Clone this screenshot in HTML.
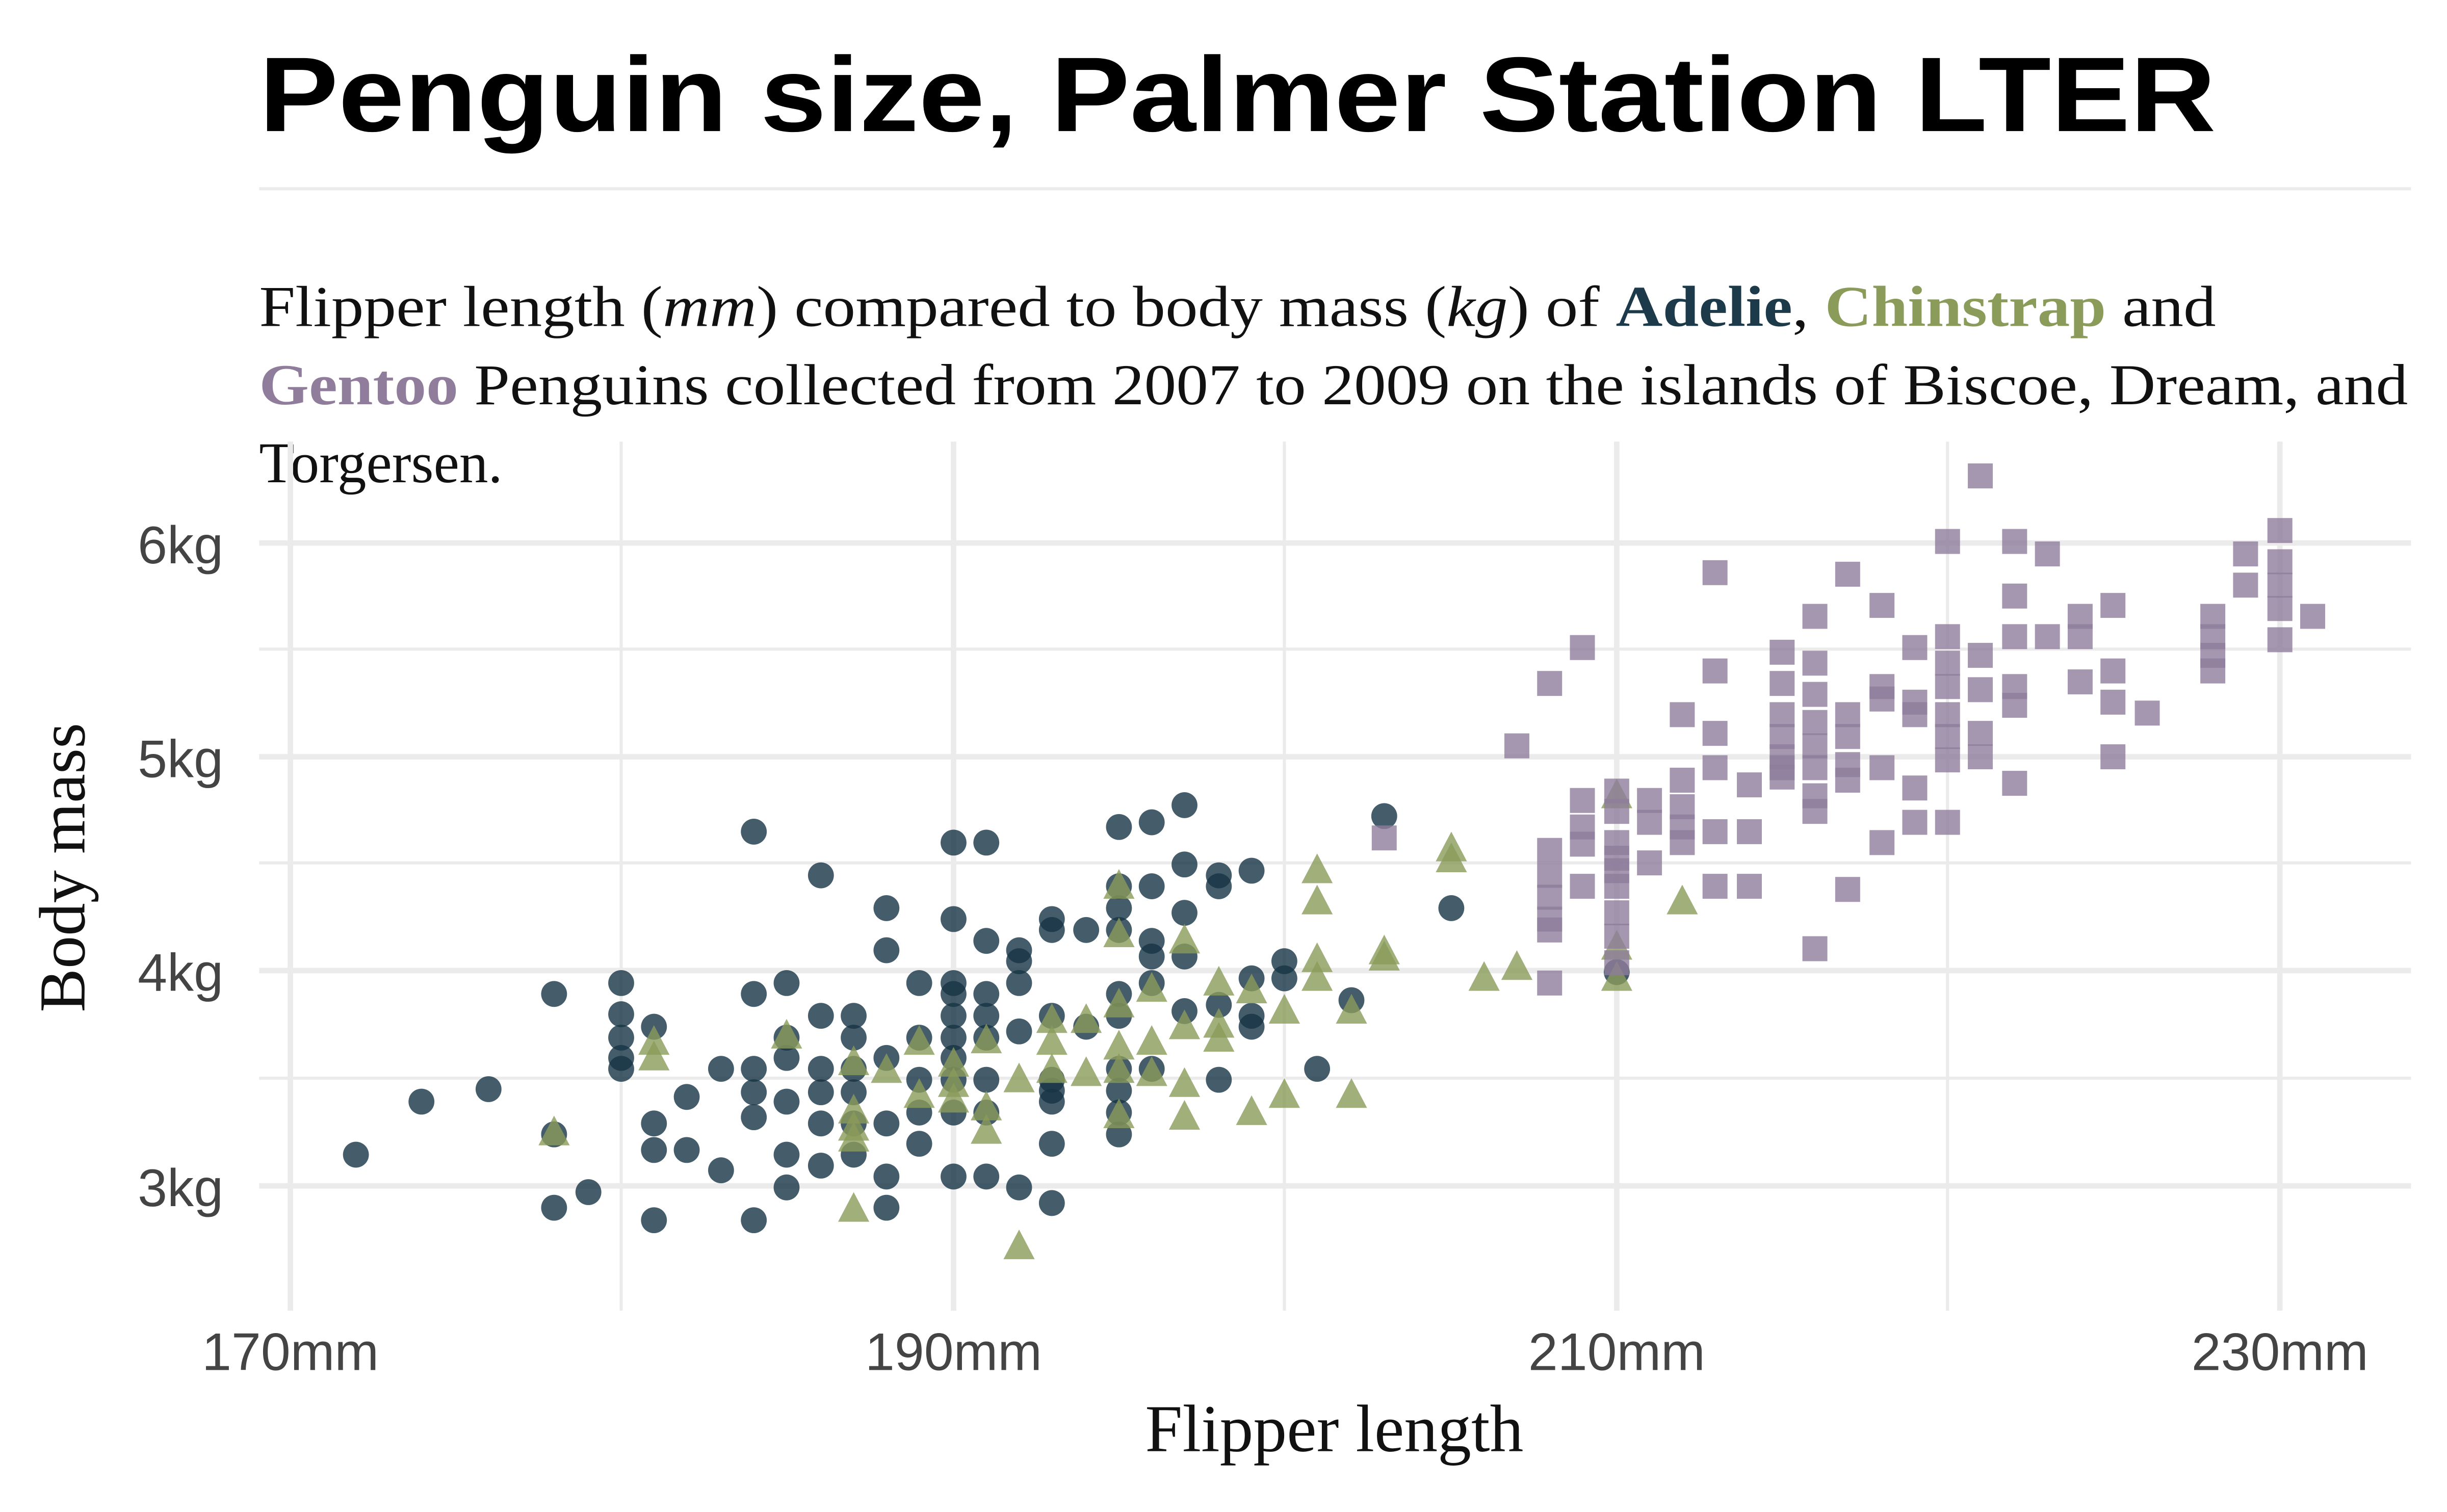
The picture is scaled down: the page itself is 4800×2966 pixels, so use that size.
<!DOCTYPE html>
<html><head><meta charset="utf-8"><style>
html,body{margin:0;padding:0;background:#fff;width:4800px;height:2966px;overflow:hidden}
svg{display:block}
</style></head><body>
<svg width="4800" height="2966" viewBox="0 0 1568 969" xmlns="http://www.w3.org/2000/svg" xmlns:xlink="http://www.w3.org/1999/xlink">
<defs>
<circle id="c" cx="0" cy="0" r="8.3" fill="#173545" fill-opacity="0.8"/>
<polygon id="t" points="-10,8 10,8 0,-11" fill="#8a9b5a" fill-opacity="0.8"/>
<rect id="s" x="-8" y="-8" width="16" height="16" fill="#8f7d9b" fill-opacity="0.8"/>
</defs>
<rect width="1568" height="969" fill="#fff"/>
<text x="166" y="84" font-family="Liberation Sans, sans-serif" font-weight="bold" font-size="68" fill="#000" textLength="1254" lengthAdjust="spacingAndGlyphs">Penguin size, Palmer Station LTER</text>
<line x1="166" y1="121" x2="1545" y2="121" stroke="#ebebeb" stroke-width="2"/>
<g font-family="Liberation Serif, serif" font-size="37" fill="#111">
<text x="166" y="209" textLength="1254" lengthAdjust="spacingAndGlyphs">Flipper length (<tspan font-style="italic">mm</tspan>) compared to body mass (<tspan font-style="italic">kg</tspan>) of <tspan font-weight="bold" fill="#1c3a4a">Adelie</tspan>, <tspan font-weight="bold" fill="#8a9b5a">Chinstrap</tspan> and</text>
<text x="166" y="259" textLength="1377" lengthAdjust="spacingAndGlyphs"><tspan font-weight="bold" fill="#8f7d9b">Gentoo</tspan> Penguins collected from 2007 to 2009 on the islands of Biscoe, Dream, and</text>
<text x="166" y="309">Torgersen.</text>
</g>
<g stroke="#ebebeb">
<g stroke-width="2"><line x1="166" y1="416" x2="1545" y2="416"/><line x1="166" y1="553" x2="1545" y2="553"/><line x1="166" y1="691" x2="1545" y2="691"/>
<line x1="398" y1="283" x2="398" y2="840"/><line x1="823" y1="283" x2="823" y2="840"/><line x1="1248" y1="283" x2="1248" y2="840"/></g>
<g stroke-width="3.5"><line x1="166" y1="348" x2="1545" y2="348"/><line x1="166" y1="485" x2="1545" y2="485"/><line x1="166" y1="622" x2="1545" y2="622"/><line x1="166" y1="760" x2="1545" y2="760"/>
<line x1="186" y1="283" x2="186" y2="840"/><line x1="611" y1="283" x2="611" y2="840"/><line x1="1036" y1="283" x2="1036" y2="840"/><line x1="1461" y1="283" x2="1461" y2="840"/></g>
</g>
<g font-family="Liberation Sans, sans-serif" font-size="34" fill="#444" text-anchor="end">
<text x="143" y="361">6kg</text><text x="143" y="498">5kg</text><text x="143" y="635">4kg</text><text x="143" y="773">3kg</text>
</g>
<g font-family="Liberation Sans, sans-serif" font-size="34" fill="#444" text-anchor="middle">
<text x="186" y="878">170mm</text><text x="611" y="878">190mm</text><text x="1036" y="878">210mm</text><text x="1461" y="878">230mm</text>
</g>
<text x="855" y="930" text-anchor="middle" font-family="Liberation Serif, serif" font-size="43" fill="#111">Flipper length</text>
<text transform="translate(54,556) rotate(-90)" text-anchor="middle" font-family="Liberation Serif, serif" font-size="42" fill="#111">Body mass</text>
<g>
<use xlink:href="#c" href="#c" x="228" y="740"/><use href="#c" x="270" y="706"/><use href="#c" x="313" y="698"/><use href="#c" x="355" y="637"/><use href="#c" x="355" y="727"/><use href="#c" x="355" y="774"/><use href="#c" x="377" y="764"/><use href="#c" x="398" y="630"/><use href="#c" x="398" y="650"/><use href="#c" x="398" y="665"/><use href="#c" x="398" y="678"/><use href="#c" x="398" y="685"/><use href="#c" x="419" y="658"/><use href="#c" x="419" y="720"/><use href="#c" x="419" y="737"/><use href="#c" x="419" y="782"/><use href="#c" x="440" y="737"/><use href="#c" x="440" y="703"/><use href="#c" x="462" y="685"/><use href="#c" x="462" y="750"/><use href="#c" x="483" y="533"/><use href="#c" x="483" y="637"/><use href="#c" x="483" y="685"/><use href="#c" x="483" y="700"/><use href="#c" x="483" y="716"/><use href="#c" x="483" y="782"/><use href="#c" x="504" y="630"/><use href="#c" x="504" y="665"/><use href="#c" x="504" y="678"/><use href="#c" x="504" y="706"/><use href="#c" x="504" y="740"/><use href="#c" x="504" y="761"/><use href="#c" x="526" y="561"/><use href="#c" x="526" y="651"/><use href="#c" x="526" y="685"/><use href="#c" x="526" y="700"/><use href="#c" x="526" y="720"/><use href="#c" x="526" y="747"/><use href="#c" x="547" y="651"/><use href="#c" x="547" y="665"/><use href="#c" x="547" y="685"/><use href="#c" x="547" y="700"/><use href="#c" x="547" y="720"/><use href="#c" x="547" y="740"/><use href="#c" x="568" y="582"/><use href="#c" x="568" y="609"/><use href="#c" x="568" y="678"/><use href="#c" x="568" y="720"/><use href="#c" x="568" y="754"/><use href="#c" x="568" y="774"/><use href="#c" x="589" y="630"/><use href="#c" x="589" y="665"/><use href="#c" x="589" y="692"/><use href="#c" x="589" y="713"/><use href="#c" x="589" y="733"/><use href="#c" x="611" y="540"/><use href="#c" x="611" y="589"/><use href="#c" x="611" y="630"/><use href="#c" x="611" y="637"/><use href="#c" x="611" y="651"/><use href="#c" x="611" y="665"/><use href="#c" x="611" y="678"/><use href="#c" x="611" y="692"/><use href="#c" x="611" y="713"/><use href="#c" x="611" y="754"/><use href="#c" x="632" y="540"/><use href="#c" x="632" y="603"/><use href="#c" x="632" y="637"/><use href="#c" x="632" y="651"/><use href="#c" x="632" y="665"/><use href="#c" x="632" y="692"/><use href="#c" x="632" y="713"/><use href="#c" x="632" y="754"/><use href="#c" x="653" y="609"/><use href="#c" x="653" y="616"/><use href="#c" x="653" y="630"/><use href="#c" x="653" y="661"/><use href="#c" x="653" y="761"/><use href="#c" x="674" y="589"/><use href="#c" x="674" y="596"/><use href="#c" x="674" y="651"/><use href="#c" x="674" y="692"/><use href="#c" x="674" y="699"/><use href="#c" x="674" y="706"/><use href="#c" x="674" y="733"/><use href="#c" x="674" y="771"/><use href="#c" x="696" y="596"/><use href="#c" x="696" y="658"/><use href="#c" x="717" y="530"/><use href="#c" x="717" y="568"/><use href="#c" x="717" y="582"/><use href="#c" x="717" y="596"/><use href="#c" x="717" y="637"/><use href="#c" x="717" y="651"/><use href="#c" x="717" y="685"/><use href="#c" x="717" y="699"/><use href="#c" x="717" y="713"/><use href="#c" x="717" y="727"/><use href="#c" x="738" y="527"/><use href="#c" x="738" y="568"/><use href="#c" x="738" y="603"/><use href="#c" x="738" y="613"/><use href="#c" x="738" y="630"/><use href="#c" x="738" y="685"/><use href="#c" x="759" y="516"/><use href="#c" x="759" y="554"/><use href="#c" x="759" y="585"/><use href="#c" x="759" y="613"/><use href="#c" x="759" y="648"/><use href="#c" x="781" y="561"/><use href="#c" x="781" y="568"/><use href="#c" x="781" y="644"/><use href="#c" x="781" y="692"/><use href="#c" x="802" y="558"/><use href="#c" x="802" y="627"/><use href="#c" x="802" y="651"/><use href="#c" x="802" y="658"/><use href="#c" x="823" y="616"/><use href="#c" x="823" y="627"/><use href="#c" x="844" y="685"/><use href="#c" x="866" y="641"/><use href="#c" x="887" y="523"/><use href="#c" x="930" y="582"/><use href="#c" x="1036" y="623"/>
</g>
<g>
<use href="#t" x="355" y="726"/><use href="#t" x="419" y="668"/><use href="#t" x="419" y="678"/><use href="#t" x="504" y="664"/><use href="#t" x="547" y="681"/><use href="#t" x="547" y="712"/><use href="#t" x="547" y="723"/><use href="#t" x="547" y="730"/><use href="#t" x="547" y="775"/><use href="#t" x="568" y="686"/><use href="#t" x="589" y="668"/><use href="#t" x="611" y="682"/><use href="#t" x="611" y="695"/><use href="#t" x="611" y="705"/><use href="#t" x="632" y="667"/><use href="#t" x="632" y="710"/><use href="#t" x="632" y="725"/><use href="#t" x="653" y="692"/><use href="#t" x="674" y="654"/><use href="#t" x="674" y="668"/><use href="#t" x="674" y="686"/><use href="#t" x="696" y="654"/><use href="#t" x="696" y="688"/><use href="#t" x="717" y="568"/><use href="#t" x="717" y="599"/><use href="#t" x="717" y="644"/><use href="#t" x="717" y="671"/><use href="#t" x="717" y="686"/><use href="#t" x="717" y="715"/><use href="#t" x="738" y="634"/><use href="#t" x="738" y="668"/><use href="#t" x="738" y="688"/><use href="#t" x="759" y="603"/><use href="#t" x="759" y="658"/><use href="#t" x="759" y="695"/><use href="#t" x="759" y="716"/><use href="#t" x="781" y="630"/><use href="#t" x="781" y="657"/><use href="#t" x="781" y="666"/><use href="#t" x="802" y="635"/><use href="#t" x="802" y="713"/><use href="#t" x="823" y="648"/><use href="#t" x="823" y="702"/><use href="#t" x="844" y="558"/><use href="#t" x="844" y="578"/><use href="#t" x="844" y="615"/><use href="#t" x="844" y="627"/><use href="#t" x="866" y="648"/><use href="#t" x="866" y="702"/><use href="#t" x="887" y="610"/><use href="#t" x="887" y="614"/><use href="#t" x="930" y="544"/><use href="#t" x="930" y="551"/><use href="#t" x="951" y="627"/><use href="#t" x="972" y="620"/><use href="#t" x="1036" y="510"/><use href="#t" x="1036" y="607"/><use href="#t" x="1036" y="627"/><use href="#t" x="1078" y="578"/><use href="#t" x="653" y="799"/><use href="#t" x="589" y="702"/>
</g>
<g>
<use href="#s" x="887" y="537"/><use href="#s" x="972" y="478"/><use href="#s" x="993" y="438"/><use href="#s" x="993" y="545"/><use href="#s" x="993" y="561"/><use href="#s" x="993" y="575"/><use href="#s" x="993" y="589"/><use href="#s" x="993" y="596"/><use href="#s" x="993" y="630"/><use href="#s" x="1014" y="415"/><use href="#s" x="1014" y="513"/><use href="#s" x="1014" y="530"/><use href="#s" x="1014" y="541"/><use href="#s" x="1014" y="568"/><use href="#s" x="1036" y="507"/><use href="#s" x="1036" y="520"/><use href="#s" x="1036" y="540"/><use href="#s" x="1036" y="550"/><use href="#s" x="1036" y="558"/><use href="#s" x="1036" y="568"/><use href="#s" x="1036" y="585"/><use href="#s" x="1036" y="600"/><use href="#s" x="1036" y="617"/><use href="#s" x="1057" y="513"/><use href="#s" x="1057" y="527"/><use href="#s" x="1057" y="553"/><use href="#s" x="1078" y="458"/><use href="#s" x="1078" y="500"/><use href="#s" x="1078" y="517"/><use href="#s" x="1078" y="530"/><use href="#s" x="1078" y="540"/><use href="#s" x="1099" y="367"/><use href="#s" x="1099" y="430"/><use href="#s" x="1099" y="470"/><use href="#s" x="1099" y="492"/><use href="#s" x="1099" y="533"/><use href="#s" x="1099" y="568"/><use href="#s" x="1121" y="503"/><use href="#s" x="1121" y="533"/><use href="#s" x="1121" y="568"/><use href="#s" x="1142" y="418"/><use href="#s" x="1142" y="438"/><use href="#s" x="1142" y="458"/><use href="#s" x="1142" y="472"/><use href="#s" x="1142" y="485"/><use href="#s" x="1142" y="492"/><use href="#s" x="1142" y="498"/><use href="#s" x="1163" y="395"/><use href="#s" x="1163" y="425"/><use href="#s" x="1163" y="445"/><use href="#s" x="1163" y="463"/><use href="#s" x="1163" y="478"/><use href="#s" x="1163" y="492"/><use href="#s" x="1163" y="510"/><use href="#s" x="1163" y="520"/><use href="#s" x="1163" y="608"/><use href="#s" x="1184" y="368"/><use href="#s" x="1184" y="458"/><use href="#s" x="1184" y="472"/><use href="#s" x="1184" y="490"/><use href="#s" x="1184" y="500"/><use href="#s" x="1184" y="570"/><use href="#s" x="1206" y="388"/><use href="#s" x="1206" y="440"/><use href="#s" x="1206" y="448"/><use href="#s" x="1206" y="492"/><use href="#s" x="1206" y="540"/><use href="#s" x="1227" y="415"/><use href="#s" x="1227" y="450"/><use href="#s" x="1227" y="458"/><use href="#s" x="1227" y="505"/><use href="#s" x="1227" y="527"/><use href="#s" x="1248" y="347"/><use href="#s" x="1248" y="408"/><use href="#s" x="1248" y="425"/><use href="#s" x="1248" y="440"/><use href="#s" x="1248" y="458"/><use href="#s" x="1248" y="472"/><use href="#s" x="1248" y="487"/><use href="#s" x="1248" y="527"/><use href="#s" x="1269" y="305"/><use href="#s" x="1269" y="420"/><use href="#s" x="1269" y="442"/><use href="#s" x="1269" y="470"/><use href="#s" x="1269" y="485"/><use href="#s" x="1291" y="347"/><use href="#s" x="1291" y="382"/><use href="#s" x="1291" y="408"/><use href="#s" x="1291" y="440"/><use href="#s" x="1291" y="452"/><use href="#s" x="1291" y="502"/><use href="#s" x="1312" y="355"/><use href="#s" x="1312" y="408"/><use href="#s" x="1333" y="395"/><use href="#s" x="1333" y="408"/><use href="#s" x="1333" y="437"/><use href="#s" x="1354" y="388"/><use href="#s" x="1354" y="430"/><use href="#s" x="1354" y="450"/><use href="#s" x="1354" y="485"/><use href="#s" x="1376" y="457"/><use href="#s" x="1418" y="395"/><use href="#s" x="1418" y="408"/><use href="#s" x="1418" y="420"/><use href="#s" x="1418" y="430"/><use href="#s" x="1439" y="355"/><use href="#s" x="1439" y="375"/><use href="#s" x="1461" y="340"/><use href="#s" x="1461" y="360"/><use href="#s" x="1461" y="375"/><use href="#s" x="1461" y="390"/><use href="#s" x="1461" y="410"/><use href="#s" x="1482" y="395"/>
</g>
</svg>
</body></html>
